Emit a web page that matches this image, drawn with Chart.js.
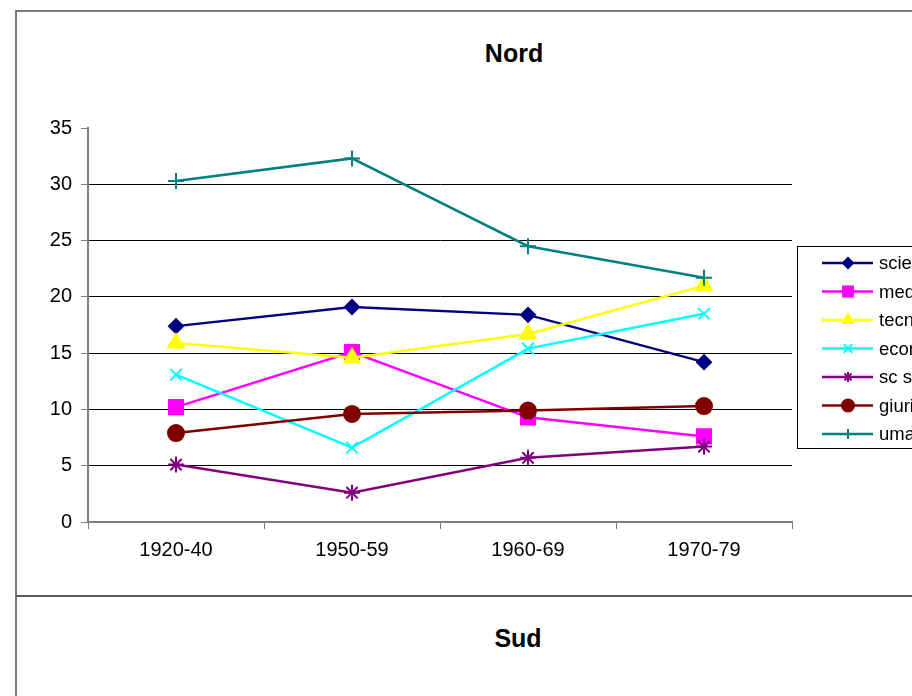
<!DOCTYPE html>
<html>
<head>
<meta charset="utf-8">
<script src="https://cdn.jsdelivr.net/npm/chart.js@4/dist/chart.umd.min.js"></script>
<style>
  body { margin: 0; overflow: hidden; background: #fff; font-family: 'Liberation Sans', Arial, sans-serif; }
  #nordFrame { position: absolute; left: 15px; top: 10px; width: 1200px; height: 583px; border: 2px solid #7a7a7a; }
  #sudFrame { position: absolute; left: 15px; top: 595px; width: 1200px; height: 300px; border-top: 2px solid #5a5a5a; border-left: 2px solid #7a7a7a; }
  .title { position: absolute; left: 0; text-align: center; font-weight: bold; font-size: 25px; line-height: 30px; color: #000; }
  #nordTitle { top: 38px; width: 1028px; }
  #sudTitle { top: 623px; width: 1036px; }
  #nord { position: absolute; left: 0; top: 0; }
</style>
</head>
<body>
<div id="nordFrame"></div>
<div id="sudFrame"></div>
<div id="nordTitle" class="title">Nord</div>
<div id="sudTitle" class="title">Sud</div>
<canvas id="nord" width="1100" height="596"></canvas>
<script>
const periods = ['1920-40', '1950-59', '1960-69', '1970-79'];
const seriesNames = ['scienze', 'medicina', 'tecnica', 'economia', 'sc sociali', 'giurisprudenza', 'umanistiche'];
const scienze = [17.4, 19.1, 18.4, 14.2];
const medicina = [10.2, 15.1, 9.3, 7.6];
const tecnica = [15.9, 14.6, 16.7, 21.0];
const economia = [13.1, 6.6, 15.4, 18.5];
const scSociali = [5.1, 2.6, 5.7, 6.7];
const giurisprudenza = [7.9, 9.6, 9.9, 10.3];
const umanistiche = [30.3, 32.3, 24.5, 21.7];
const yTicks = [0, 5, 10, 15, 20, 25, 30, 35];

const values = [scienze, medicina, tecnica, economia, scSociali, giurisprudenza, umanistiche];
const colors = ['#000080', '#FF00FF', '#FFFF00', '#00FFFF', '#800080', '#800000', '#008080'];
const styles = ['rectRot', 'rect', 'triangle', 'crossRot', 'star', 'circle', 'cross'];
const radii = [7, 10, 9, 8, 8, 8, 8];
const legendRadii = [5, 7, 6, 6, 5, 6, 5];

const font = "'Liberation Sans', Arial, sans-serif";

const datasets = seriesNames.map((name, i) => ({
  label: name,
  data: values[i],
  borderColor: colors[i],
  backgroundColor: colors[i],
  pointStyle: styles[i],
  pointRadius: radii[i],
  pointBorderWidth: 2,
  borderWidth: 2.5,
  tension: 0,
  order: -i
}));

// legend box like the spreadsheet one, cut off on the right
const boxLegend = {
  id: 'boxLegend',
  afterDraw(chart) {
    const ctx = chart.ctx;
    ctx.save();
    ctx.strokeStyle = '#000';
    ctx.lineWidth = 1;
    ctx.strokeRect(797.5, 246.5, 300, 202);
    chart.data.datasets.forEach((ds, i) => {
      const y = 263 + i * 28.5;
      ctx.strokeStyle = ds.borderColor;
      ctx.lineWidth = 2.5;
      ctx.beginPath();
      ctx.moveTo(822, y);
      ctx.lineTo(873, y);
      ctx.stroke();
      ctx.fillStyle = ds.backgroundColor;
      ctx.lineWidth = 2;
      Chart.helpers.drawPoint(ctx, { pointStyle: ds.pointStyle, radius: legendRadii[i], rotation: 0, borderWidth: 2 }, 848, y);
      ctx.fillStyle = '#000';
      ctx.font = '18.5px ' + font;
      ctx.textBaseline = 'middle';
      ctx.textAlign = 'left';
      ctx.fillText(ds.label, 879, y + 1);
    });
    ctx.restore();
  }
};

new Chart(document.getElementById('nord'), {
  type: 'line',
  data: { labels: periods, datasets: datasets },
  plugins: [boxLegend],
  options: {
    responsive: false,
    animation: false,
    layout: { padding: { left: 0, right: 308, top: 128, bottom: 0 } },
    plugins: {
      legend: { display: false },
      tooltip: { enabled: false },
      title: { display: false }
    },
    scales: {
      x: {
        offset: true,
        afterFit(scale) { scale.height = 74; },
        grid: { offset: true, drawOnChartArea: false, drawTicks: true, tickLength: 7, tickColor: '#808080' },
        border: { color: '#808080', width: 2 },
        ticks: { color: '#000', padding: 9, font: { family: font, size: 20 } }
      },
      y: {
        min: 0,
        max: 35,
        afterFit(scale) { scale.width = 88; },
        afterBuildTicks(scale) { scale.ticks = yTicks.map(v => ({ value: v })); },
        grid: {
          color: ctx => (ctx.tick && ctx.tick.value === 35) ? 'rgba(0,0,0,0)' : '#000',
          lineWidth: 1,
          tickLength: 7,
          tickColor: '#808080'
        },
        border: { color: '#808080', width: 2 },
        ticks: { color: '#000', padding: 9, font: { family: font, size: 20 } }
      }
    }
  }
});
</script>
</body>
</html>
